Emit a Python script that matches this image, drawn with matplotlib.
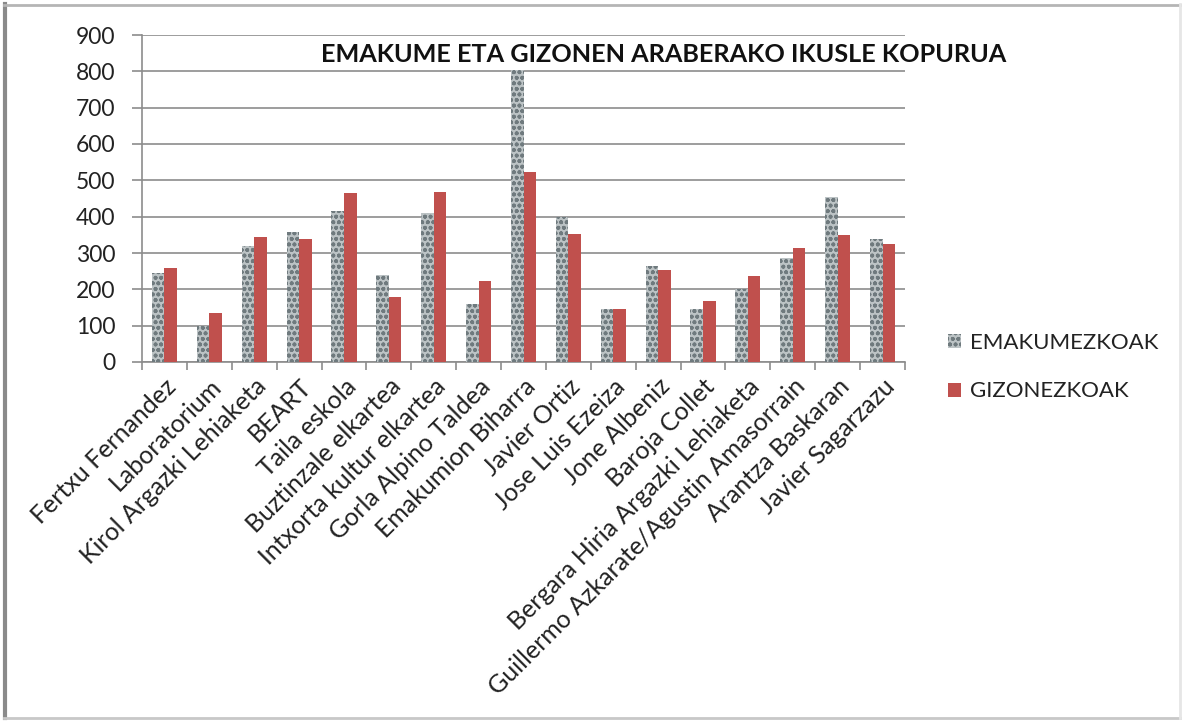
import matplotlib
matplotlib.use("Agg")
import matplotlib.pyplot as plt
import numpy as np
from matplotlib.lines import Line2D

categories = ["Fertxu Fernandez", "Laboratorium", "Kirol Argazki Lehiaketa", "BEART",
              "Taila eskola", "Buztinzale elkartea", "Intxorta kultur elkartea",
              "Gorla Alpino Taldea", "Emakumion Biharra", "Javier Ortiz",
              "Jose Luis Ezeiza", "Jone Albeniz", "Baroja Collet",
              "Bergara Hiria Argazki Lehiaketa", "Guillermo Azkarate/Agustin Amasorrain",
              "Arantza Baskaran", "Javier Sagarzazu"]
emakumezkoak = [245, 100, 320, 358, 415, 240, 410, 160, 805, 398, 145, 265, 147, 200, 285, 455, 338]
gizonezkoak = [260, 135, 345, 338, 465, 180, 468, 222, 522, 352, 145, 254, 168, 236, 314, 349, 324]
yticks = [0, 100, 200, 300, 400, 500, 600, 700, 800, 900]
title = "EMAKUME ETA GIZONEN ARABERAKO IKUSLE KOPURUA"
series_names = ["EMAKUMEZKOAK", "GIZONEZKOAK"]

plt.rcParams['font.family'] = ['Lato', 'DejaVu Sans']
plt.rcParams['hatch.linewidth'] = 1.2

W, H = 1185, 722
fig = plt.figure(figsize=(W / 100, H / 100), dpi=100)
fig.patch.set_facecolor('white')

# outer chart frame
def fx(px):
    return px / W

def fy(py):
    return 1 - py / H

fig.add_artist(Line2D([fx(5), fx(5)], [fy(4), fy(718)], color='#8a8a8a', linewidth=3))
fig.add_artist(Line2D([fx(4), fx(1180)], [fy(5), fy(5)], color='#b5b5b5', linewidth=2))
fig.add_artist(Line2D([fx(4), fx(1180)], [fy(718), fy(718)], color='#c8c8c8', linewidth=2))
fig.add_artist(Line2D([fx(1180), fx(1180)], [fy(4), fy(718)], color='#e6e6e6', linewidth=2))

ax = fig.add_axes([142 / W, 1 - 362 / H, (905 - 142) / W, (362 - 35) / H])
x = np.arange(len(categories))
bw = 0.28
gray = ax.bar(x - bw / 2, emakumezkoak, bw, color='#bcc3c5', edgecolor='#6f7a7e',
              hatch='ooo', linewidth=0, zorder=3, label=series_names[0])
red = ax.bar(x + bw / 2, gizonezkoak, bw, color='#c0504d', linewidth=0, zorder=3,
             label=series_names[1])

ax.set_xlim(-0.5, len(categories) - 0.5)
ax.set_ylim(0, 900)
ax.set_yticks(yticks)
ax.set_yticklabels([str(v) for v in yticks], fontsize=16.5, color='#222222')
ax.yaxis.grid(True, color='#8c8c8c', linewidth=1.2, zorder=0)
ax.set_axisbelow(True)
ax.set_xticks(x)
ax.set_xticklabels(categories, rotation=45, ha='right', rotation_mode='anchor',
                   fontsize=18, color='#222222')
ax.set_xticks(np.arange(len(categories) + 1) - 0.5, minor=True)
ax.tick_params(axis='x', which='major', length=0, pad=9)
ax.tick_params(axis='x', which='minor', length=6, color='#8c8c8c', width=1.2)
ax.tick_params(axis='y', length=7, color='#8c8c8c', width=1.2, pad=12)
for s in ['top', 'right']:
    ax.spines[s].set_visible(False)
ax.spines['left'].set_color('#8c8c8c')
ax.spines['bottom'].set_color('#8c8c8c')
ax.spines['left'].set_linewidth(1.2)
ax.spines['bottom'].set_linewidth(1.2)

fig.text(664 / W, 1 - 55 / H, title, ha='center', va='center', fontsize=18.2,
         fontweight='bold', color='#111111')

fig.legend(handles=[gray, red], labels=series_names, loc='center left',
           bbox_to_anchor=(928 / W, 1 - 367 / H), frameon=False, fontsize=16,
           handlelength=0.6, handleheight=0.6, handletextpad=0.4, labelspacing=1.3,
           labelcolor='#222222')

fig.savefig('out.png', dpi=100, facecolor='white')
